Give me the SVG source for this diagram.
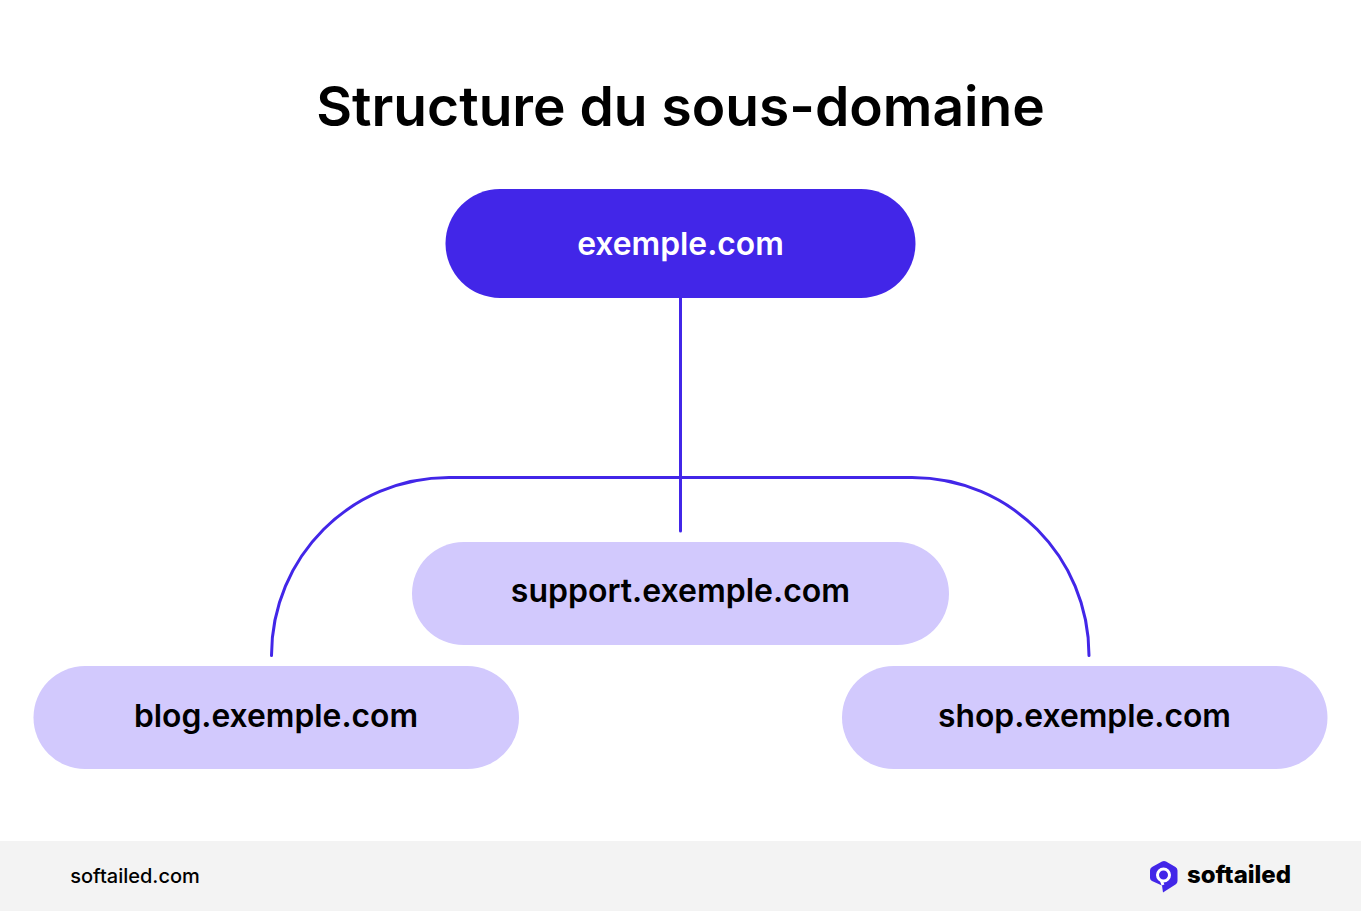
<svg xmlns="http://www.w3.org/2000/svg" width="1361" height="911" viewBox="0 0 1361 911">
<style>
text{font-family:Inter,"Liberation Sans",sans-serif;text-anchor:middle}
.c{fill:none;stroke:#4226e8;stroke-width:3;stroke-linecap:round}
.n{fill:#d2c9fd}
.l{font-size:31.800px;font-weight:600;fill:#000}
</style>
<rect width="1361" height="911" fill="#fff"/>
<rect y="841" width="1361" height="70" fill="#f3f3f3"/>
<text x="680.500" y="126" font-size="55.100" font-weight="600" fill="#000">Structure du sous-domaine</text>
<g id="connectors">
<path class="c" d="M680.500 297V531"/>
<path class="c" d="M271.500 655.500C271.500 557 351 477.500 449 477.500H912C1010 477.500 1089 557 1089 655.500"/>
</g>
<g id="root"><rect x="445.500" y="189" width="470" height="109" rx="54.500" fill="#4226e8"/><text x="680.500" y="255" font-size="31.800" font-weight="600" fill="#fff">exemple.com</text></g>
<g id="support"><rect class="n" x="412" y="542" width="537" height="103" rx="51.500"/><text class="l" x="680.500" y="602" style="font-size:32px">support.exemple.com</text></g>
<g id="blog"><rect class="n" x="33.500" y="666" width="485.500" height="103" rx="51.500"/><text class="l" x="276" y="727">blog.exemple.com</text></g>
<g id="shop"><rect class="n" x="842" y="666" width="485.500" height="103" rx="51.500"/><text class="l" x="1084.500" y="727">shop.exemple.com</text></g>
<g id="footer">
<text x="135" y="882.500" font-size="20" font-weight="500" fill="#000">softailed.com</text>
<path d="M1162 861.500Q1164 860.500 1166 861.500L1175.500 867Q1177.500 868.200 1177.500 870.500V881Q1177.500 883.300 1175.500 884.500L1164.500 891.500L1163 892.500L1162 885.500L1152 881Q1150 880 1150 878V870.500Q1150 868.200 1152 867Z" fill="#4226e8"/>
<circle cx="1163.500" cy="875" r="6" fill="none" stroke="#fff" stroke-width="3"/>
<path d="M1161.500 881L1163 885" fill="none" stroke="#fff" stroke-width="3"/>
<text x="1239" y="883" font-size="24" font-weight="800" fill="#000">softailed</text>
</g>
</svg>
